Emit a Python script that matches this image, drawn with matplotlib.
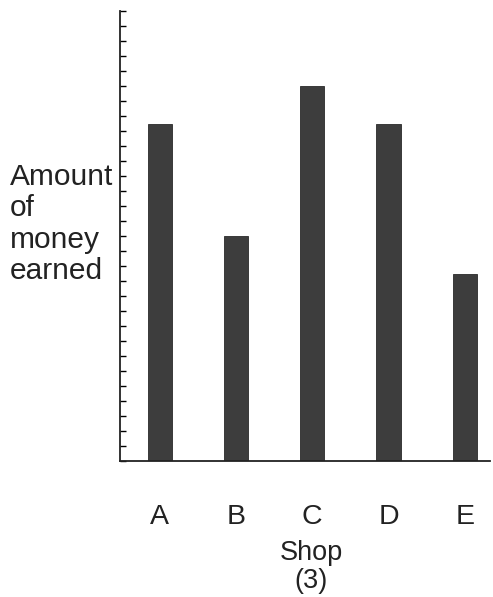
import matplotlib
matplotlib.use("Agg")
import matplotlib.pyplot as plt
import numpy as np

shops = ["A", "B", "C", "D", "E"]
money = [22.5, 15, 25, 22.5, 12.5]
y_max = 30

plt.rcParams['font.family'] = ['Liberation Sans', 'DejaVu Sans']

W, H = 493, 597
fig = plt.figure(figsize=(W / 100, H / 100), dpi=100)
ax = fig.add_axes([120 / W, (H - 461) / H, (490 - 120) / W, 450 / H])

x = np.arange(len(shops))
ax.bar(x, money, width=0.315, color="#3d3d3d", edgecolor="#2a2a2a", linewidth=0.6)

ax.set_xlim(-0.518, 4.33)
ax.set_ylim(0, y_max)
ax.set_yticks(np.arange(0, y_max + 1, 1))
ax.set_yticklabels([])
ax.tick_params(axis="y", direction="in", length=4, width=1.0, color="black")
ax.set_xticks(x)
ax.set_xticklabels(shops, fontsize=20.5, color="#222222")
ax.tick_params(axis="x", length=0, pad=31)

for s in ["top", "right"]:
    ax.spines[s].set_visible(False)
for s in ["left", "bottom"]:
    ax.spines[s].set_linewidth(1.3)
    ax.spines[s].set_color("#222222")

fig.text(10 / W, 1 - 163 / H, "Amount\nof\nmoney\nearned", fontsize=21.5,
         ha="left", va="top", color="#222222", linespacing=1.15)
fig.text(311 / W, 1 - 553 / H, "Shop", fontsize=19.5, ha="center", va="center", color="#222222")
fig.text(311 / W, 1 - 581 / H, "(3)", fontsize=19.5, ha="center", va="center", color="#222222")

fig.savefig("out.png", dpi=100)
